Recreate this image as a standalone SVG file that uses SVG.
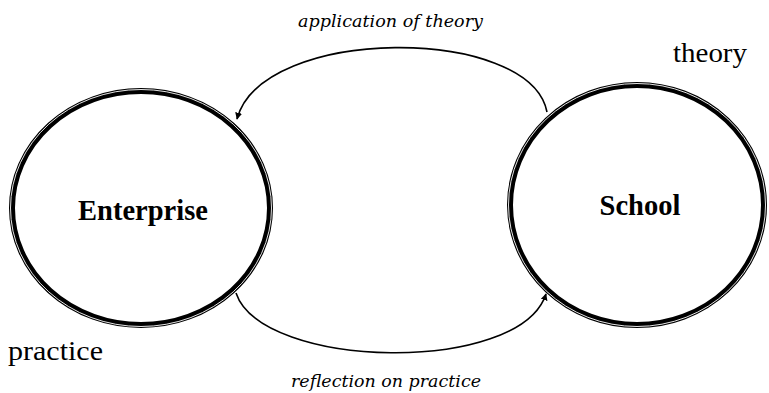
<svg xmlns="http://www.w3.org/2000/svg" width="769" height="393" viewBox="0 0 769 393">
  <style>
    .ring { fill: none; stroke: #000; stroke-width: 6; }
    .ring-gap { fill: none; stroke: #fff; stroke-width: 0.9; }
    .name { font-family: "Liberation Serif", "Times New Roman", serif; font-weight: bold; font-size: 28.5px; text-anchor: middle; fill: #000; }
    .side { font-family: "Liberation Serif", "Times New Roman", serif; font-size: 27px; fill: #000; }
    .flow { font-family: "DejaVu Serif", "Liberation Serif", serif; font-style: italic; font-size: 17px; fill: #000; }
    .link { fill: none; stroke: #000; stroke-width: 1.6; }
  </style>
  <defs>
    <marker id="head" viewBox="0 0 10 10" refX="9" refY="5" markerWidth="7" markerHeight="7" orient="auto" markerUnits="userSpaceOnUse">
      <path d="M0,0 L10,5 L0,10 Z" fill="#000"/>
    </marker>
  </defs>
  <rect width="769" height="393" fill="#fff"/>

  <!-- connectors between the two settings -->
  <g id="connectors">
    <path class="link" d="M547,112 C530,25 262,25 237,119" marker-end="url(#head)"/>
    <path class="link" d="M236,293 C262,370 520,375 546,294" marker-end="url(#head)"/>
    <text class="flow" x="298" y="27" textLength="185" lengthAdjust="spacingAndGlyphs">application of theory</text>
    <text class="flow" x="291" y="387" textLength="190" lengthAdjust="spacingAndGlyphs">reflection on practice</text>
  </g>

  <!-- Enterprise node -->
  <g id="enterprise">
    <ellipse class="ring" cx="141" cy="208" rx="129" ry="117"/>
    <ellipse class="ring-gap" cx="141" cy="208" rx="130.5" ry="118.5"/>
    <text class="name" x="143" y="220">Enterprise</text>
    <text class="side" x="8" y="360" textLength="95" lengthAdjust="spacingAndGlyphs">practice</text>
  </g>

  <!-- School node -->
  <g id="school">
    <ellipse class="ring" cx="637" cy="205" rx="127" ry="120"/>
    <ellipse class="ring-gap" cx="637" cy="205" rx="128.5" ry="121.5"/>
    <text class="name" x="640" y="215">School</text>
    <text class="side" x="673" y="62" textLength="74" lengthAdjust="spacingAndGlyphs">theory</text>
  </g>
</svg>
